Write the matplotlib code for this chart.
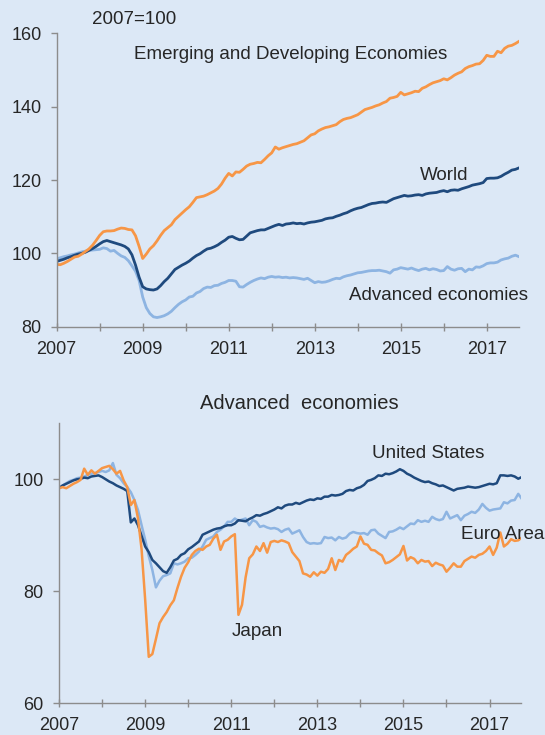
import numpy as np
import matplotlib
matplotlib.use('Agg')
import matplotlib.pyplot as plt

plt.rcParams['font.family'] = ['Liberation Sans', 'DejaVu Sans']

# monthly index values, Jan 2007 - Oct 2017 (2007=100)
emerging = [
    97.0, 96.9, 97.3, 97.8, 98.4, 99.0, 99.2, 99.8, 100.5, 101.2, 102.2, 103.5,
    104.9, 105.9, 106.1, 106.1, 106.2, 106.6, 106.9, 106.8, 106.5, 106.4, 104.8, 101.9,
    98.6, 99.8, 101.2, 102.1, 103.4, 104.9, 106.2, 107.0, 107.8, 109.2, 110.1, 111.0,
    111.9, 112.7, 113.9, 115.2, 115.4, 115.6, 116.0, 116.5, 117.0, 117.7, 118.9, 120.5,
    121.8, 121.1, 122.2, 122.1, 122.9, 123.8, 124.3, 124.5, 124.8, 124.7, 125.6, 126.6,
    127.4, 129.0, 128.4, 128.8, 129.1, 129.4, 129.7, 129.9, 130.3, 130.7, 131.5, 132.3,
    132.6, 133.4, 133.9, 134.3, 134.5, 134.8, 135.1, 135.9, 136.5, 136.8, 137.0, 137.4,
    137.8, 138.5, 139.2, 139.5, 139.8, 140.2, 140.5, 141.0, 141.4, 142.3, 142.5, 142.8,
    143.9, 143.2, 143.5, 143.8, 144.2, 144.1, 145.0, 145.4, 146.0, 146.5, 146.8, 147.1,
    147.6, 147.3, 147.9, 148.6, 149.1, 149.5, 150.4, 150.9, 151.2, 151.6, 151.7, 152.6,
    154.0, 153.7, 153.7, 155.1, 154.7, 155.9, 156.5, 156.7, 157.2, 157.8]
world = [
    97.8, 98.1, 98.4, 98.8, 99.1, 99.5, 99.8, 100.0, 100.3, 100.8, 101.3, 101.9,
    102.6, 103.2, 103.5, 103.2, 102.9, 102.6, 102.3, 101.9, 101.2, 99.6, 96.8, 93.5,
    90.9, 90.3, 90.1, 90.0, 90.3, 91.2, 92.3, 93.2, 94.4, 95.6, 96.2, 96.8,
    97.3, 97.9, 98.7, 99.4, 99.9, 100.6, 101.2, 101.4, 101.8, 102.3, 103.0, 103.6,
    104.4, 104.6, 104.1, 103.7, 103.8, 104.7, 105.6, 105.9, 106.2, 106.4, 106.4, 106.8,
    107.2, 107.6, 107.9, 107.6, 108.0, 108.1, 108.3, 108.1, 108.2, 108.0, 108.3, 108.5,
    108.6, 108.8, 109.0, 109.4, 109.6, 109.7, 110.1, 110.4, 110.8, 111.1, 111.6, 112.0,
    112.3, 112.5, 112.9, 113.3, 113.6, 113.7, 113.9, 114.0, 113.9, 114.4, 114.9, 115.2,
    115.5, 115.8, 115.6, 115.7, 115.9, 116.0, 115.8, 116.2, 116.4, 116.5, 116.6, 116.9,
    117.1, 116.8, 117.2, 117.3, 117.2, 117.6, 117.9, 118.2, 118.6, 118.8, 119.0, 119.3,
    120.4, 120.5, 120.5, 120.6, 121.0, 121.6, 122.1, 122.7, 122.9, 123.3]
advanced = [
    98.5, 98.8, 99.1, 99.3, 99.6, 99.8, 100.1, 100.4, 100.6, 100.8, 100.9, 101.0,
    101.1, 101.5, 101.3, 100.6, 100.8, 100.0, 99.3, 98.9, 98.0, 96.6, 95.1, 92.6,
    88.1, 85.2, 83.6, 82.7, 82.5, 82.7, 83.0, 83.5, 84.2, 85.2, 86.1, 86.8,
    87.3, 88.1, 88.3, 89.2, 89.6, 90.4, 90.8, 90.7, 91.2, 91.3, 91.8, 92.1,
    92.6, 92.6, 92.4, 90.9, 90.8, 91.5, 92.1, 92.6, 93.0, 93.3, 93.1, 93.5,
    93.7, 93.5, 93.6, 93.4, 93.5, 93.3, 93.4, 93.3, 93.1, 92.9, 93.2, 92.6,
    92.0, 92.3, 92.1, 92.2, 92.5, 92.9, 93.2, 93.1, 93.6, 93.9, 94.1, 94.4,
    94.7, 94.8, 95.0, 95.2, 95.3, 95.3, 95.4, 95.2, 95.0, 94.6, 95.5, 95.7,
    96.1, 95.9, 95.7, 96.0, 95.6, 95.3, 95.7, 95.9, 95.5, 95.8, 95.6, 95.2,
    95.3, 96.4, 95.7, 95.4, 95.8, 95.9, 95.0, 95.7, 95.5, 96.3, 96.2, 96.6,
    97.2, 97.4, 97.4, 97.6, 98.2, 98.5, 98.7, 99.2, 99.5, 99.1]

united_states = [
    98.4, 98.9, 99.2, 99.5, 99.8, 100.0, 100.1, 100.3, 100.2, 100.5, 100.6, 100.7,
    100.4, 100.0, 99.6, 99.3, 98.9, 98.6, 98.3, 97.9, 92.3, 93.0, 91.8, 89.9,
    88.0, 87.0, 85.6, 85.0, 84.3, 83.6, 83.3, 84.3, 85.5, 85.8, 86.5, 86.8,
    87.5, 87.9, 88.4, 88.9, 90.1, 90.4, 90.7, 91.0, 91.2, 91.3, 91.6, 91.8,
    91.8, 92.1, 92.7, 92.6, 92.5, 92.9, 93.2, 93.6, 93.5, 93.8, 94.0, 94.3,
    94.6, 95.0, 94.8, 95.3, 95.5, 95.5, 95.8, 95.6, 95.9, 96.2, 96.4, 96.3,
    96.6, 96.5, 96.9, 96.9, 97.2, 97.1, 97.2, 97.4, 97.9, 98.1, 98.0, 98.4,
    98.6, 99.0, 99.7, 99.9, 100.2, 100.7, 100.6, 101.0, 100.9, 101.1, 101.4, 101.8,
    101.5, 101.0, 100.7, 100.3, 100.0, 99.7, 99.5, 99.6, 99.3, 99.1, 98.8, 98.9,
    98.6, 98.3, 98.0, 98.3, 98.4, 98.5, 98.7, 98.6, 98.5, 98.6, 98.8, 99.0,
    99.2, 99.1, 99.3, 100.7, 100.7, 100.6, 100.7, 100.5, 100.1, 100.4]
euro_area = [
    98.6, 98.9, 99.3, 99.7, 99.9, 100.2, 100.3, 100.5, 100.8, 101.0, 101.1, 101.3,
    101.5, 101.3, 101.6, 102.9, 100.8, 100.2, 99.3, 98.6, 97.7, 96.3, 94.5, 91.8,
    89.2, 86.3, 83.8, 80.7, 81.9, 82.7, 82.9, 83.2, 85.0, 84.8, 85.0, 85.3,
    85.9, 86.0, 86.5, 87.1, 88.0, 89.2, 89.5, 89.8, 90.6, 91.0, 91.6, 92.4,
    92.4, 93.0, 92.6, 92.8, 93.0, 91.8, 92.7, 92.4, 91.5, 91.7, 91.4, 91.2,
    91.3, 91.1, 90.6, 91.0, 91.2, 90.3, 90.6, 90.9, 89.7, 88.8, 88.5, 88.6,
    88.5, 88.6, 89.7, 89.5, 89.6, 89.1, 89.7, 89.4, 89.6, 90.3, 90.6, 90.4,
    90.3, 90.4, 90.1, 90.9, 91.0, 90.3, 89.9, 89.5, 90.6, 90.7, 91.0, 91.4,
    91.1, 91.6, 92.1, 92.0, 92.7, 92.4, 92.6, 92.4, 93.3, 92.9, 92.7, 92.9,
    94.2, 93.0, 93.3, 93.6, 92.7, 93.5, 93.8, 94.2, 94.0, 94.6, 95.6, 94.9,
    94.4, 94.6, 94.7, 94.8, 95.9, 95.7, 96.2, 96.3, 97.4, 96.5]
japan = [
    98.4, 98.6, 98.4, 98.8, 99.2, 99.5, 99.9, 101.9, 100.8, 101.6, 101.0, 101.5,
    102.0, 102.2, 102.4, 101.8, 101.0, 101.5, 99.8, 98.6, 95.4, 96.3, 93.0, 87.5,
    78.5, 68.3, 68.8, 71.5, 74.3, 75.4, 76.3, 77.5, 78.4, 80.6, 82.6, 84.2,
    85.2, 86.5, 87.2, 87.6, 87.4, 88.0, 88.3, 89.4, 90.1, 87.4, 88.9, 89.2,
    89.8, 90.2, 75.8, 77.6, 82.5, 85.9, 86.6, 88.0, 87.2, 88.6, 86.9, 88.8,
    89.0, 88.8, 89.1, 88.9, 88.6, 87.0, 86.2, 85.4, 83.2, 83.0, 82.6, 83.4,
    82.8, 83.5, 83.3, 84.0, 85.9, 83.8, 85.6, 85.3, 86.5, 87.0, 87.6, 88.0,
    89.8, 88.5, 88.3, 87.4, 87.3, 86.8, 86.4, 85.0, 85.2, 85.6, 86.1, 86.6,
    88.1, 85.5, 86.1, 85.8, 85.0, 85.6, 85.3, 85.4, 84.5, 85.1, 84.8, 84.6,
    83.5, 84.2, 85.0, 84.4, 84.4, 85.4, 85.8, 86.2, 86.0, 86.5, 86.7, 87.2,
    88.0, 86.5, 87.8, 90.5, 88.0, 88.5, 89.3, 89.0, 89.1, 89.6]

years = 2007 + np.arange(len(world)) / 12.0
year_ticks = [2007, 2009, 2011, 2013, 2015, 2017]

BG = '#DCE8F6'
ORANGE = '#F79646'
DARK = '#1F4A7E'
LIGHT = '#8DB4E2'
TXT = '#262626'

fig = plt.figure(figsize=(5.45, 7.35), dpi=100, facecolor=BG)
ax1 = fig.add_axes([0.104, 0.5555, 0.8475, 0.3992], facecolor=BG)
ax2 = fig.add_axes([0.1084, 0.0431, 0.8483, 0.381], facecolor=BG)


def style(ax, ymin, ymax, yticks):
    ax.set_xlim(2007, 2017.74)
    ax.set_ylim(ymin, ymax)
    ax.set_yticks(yticks)
    ax.set_xticks(year_ticks)
    ax.set_xticks(range(2008, 2018, 2), minor=True)
    for s in ['top', 'right']:
        ax.spines[s].set_visible(False)
    for s in ['left', 'bottom']:
        ax.spines[s].set_color('#8C8C8C')
        ax.spines[s].set_linewidth(1.0)
    ax.tick_params(axis='both', which='both', colors='#8C8C8C', labelcolor=TXT,
                   labelsize=13, width=1.0)
    ax.tick_params(axis='x', which='both', direction='inout', length=6, pad=7)
    ax.tick_params(axis='y', direction='out', length=4, pad=7)


ax1.plot(years, advanced, color=LIGHT, lw=2.0)
ax1.plot(years, world, color=DARK, lw=2.0)
ax1.plot(years, emerging, color=ORANGE, lw=2.0)
style(ax1, 80, 160, [80, 100, 120, 140, 160])

ax1.text(2007.82, 163.8, '2007=100', fontsize=13.5, color=TXT, va='center', clip_on=False)
ax1.text(2008.8, 154.1, 'Emerging and Developing Economies', fontsize=13.5, color=TXT, va='center')
ax1.text(2015.45, 121.2, 'World', fontsize=13.5, color=TXT, va='center')
ax1.text(2013.8, 88.5, 'Advanced economies', fontsize=13.5, color=TXT, va='center')

ax2.plot(years, euro_area, color=LIGHT, lw=1.8)
ax2.plot(years, united_states, color=DARK, lw=1.8)
ax2.plot(years, japan, color=ORANGE, lw=1.8)
style(ax2, 60, 110, [60, 80, 100])

ax2.text(2012.58, 113.6, 'Advanced  economies', fontsize=14.5, color=TXT,
         ha='center', va='center', clip_on=False)
ax2.text(2014.28, 104.6, 'United States', fontsize=13.5, color=TXT, va='center')
ax2.text(2016.33, 90.2, 'Euro Area', fontsize=13.5, color=TXT, va='center', clip_on=False)
ax2.text(2011.02, 72.8, 'Japan', fontsize=13.5, color=TXT, va='center')

fig.savefig('out.png', dpi=100, facecolor=BG)
